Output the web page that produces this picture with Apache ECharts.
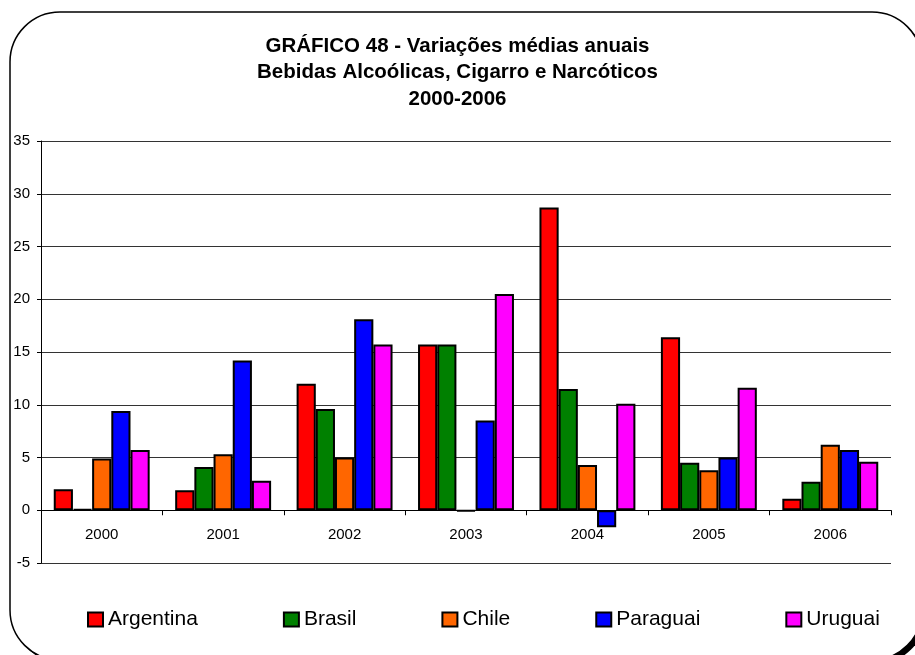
<!DOCTYPE html>
<html>
<head>
<meta charset="utf-8">
<script src="https://cdn.jsdelivr.net/npm/echarts@6/dist/echarts.min.js"></script>
<style>
html,body{margin:0;padding:0;background:#fff;}
#chart{width:915px;height:655px;}
</style>
</head>
<body>
<div id="chart"></div>
<script>
var years = ['2000','2001','2002','2003','2004','2005','2006'];
var seriesNames = ['Argentina','Brasil','Chile','Paraguai','Uruguai'];
var argentina = [2.0, 1.9, 12.0, 15.7, 28.7, 16.4, 1.1];
var brasil    = [0.1, 4.1, 9.6, 15.7, 11.5, 4.5, 2.7];
var chile     = [4.9, 5.3, 5.0, -0.1, 4.3, 3.8, 6.2];
var paraguai  = [9.4, 14.2, 18.1, 8.5, -1.6, 5.0, 5.7];
var uruguai   = [5.7, 2.8, 15.7, 20.5, 10.1, 11.6, 4.6];
var colors = ['#FF0000','#008000','#FF6600','#0000FF','#FF00FF'];
var titleLines = ['GRÁFICO 48 - Variações médias anuais','Bebidas Alcoólicas, Cigarro e Narcóticos','2000-2006'];

var values = [argentina, brasil, chile, paraguai, uruguai];
var font = "'Liberation Sans', Arial, sans-serif";

var chart = echarts.init(document.getElementById('chart'), null, {renderer:'canvas'});
var option = {
  backgroundColor: '#ffffff',
  animation: false,
  graphic: [{
    type: 'rect',
    z: -11,
    silent: true,
    shape: {x: 14, y: 16, width: 912, height: 648, r: 50},
    style: {fill: '#000000', stroke: null}
  }, {
    type: 'rect',
    z: -10,
    silent: true,
    shape: {x: 10, y: 12, width: 912, height: 648, r: 50},
    style: {fill: '#ffffff', stroke: '#000000', lineWidth: 1.5}
  }],
  title: {
    text: titleLines.join('\n'),
    left: 'center',
    top: 28,
    textStyle: {fontFamily: font, fontSize: 20.5, fontWeight: 'bold', color: '#000', lineHeight: 26.5}
  },
  legend: {
    data: seriesNames,
    left: 87,
    top: 609,
    padding: 0,
    itemWidth: 15,
    itemHeight: 14,
    itemGap: 85,
    icon: 'rect',
    textStyle: {fontFamily: font, fontSize: 21, color: '#000'}
  },
  grid: {left: 41, right: 24, top: 141, bottom: 92, containLabel: false},
  xAxis: {
    type: 'category',
    data: years,
    axisLine: {onZero: true, lineStyle: {color: '#000', width: 1}},
    axisTick: {show: true, length: 5, lineStyle: {color: '#000'}},
    axisLabel: {fontFamily: font, fontSize: 15, color: '#000', margin: -36},
    splitLine: {show: false}
  },
  yAxis: {
    type: 'value',
    min: -5,
    max: 35,
    interval: 5,
    axisLine: {show: true, lineStyle: {color: '#000', width: 1}},
    axisTick: {show: true, length: 4, lineStyle: {color: '#000'}},
    axisLabel: {fontFamily: font, fontSize: 15, color: '#000', margin: 11},
    splitLine: {show: true, lineStyle: {color: '#333', width: 1}}
  },
  series: seriesNames.map(function(name, i){
    return {
      name: name,
      type: 'bar',
      data: values[i],
      barGap: '0%',
      barCategoryGap: '21%',
      itemStyle: {color: colors[i], borderColor: '#000', borderWidth: 2}
    };
  })
};
chart.setOption(option);
</script>
</body>
</html>
